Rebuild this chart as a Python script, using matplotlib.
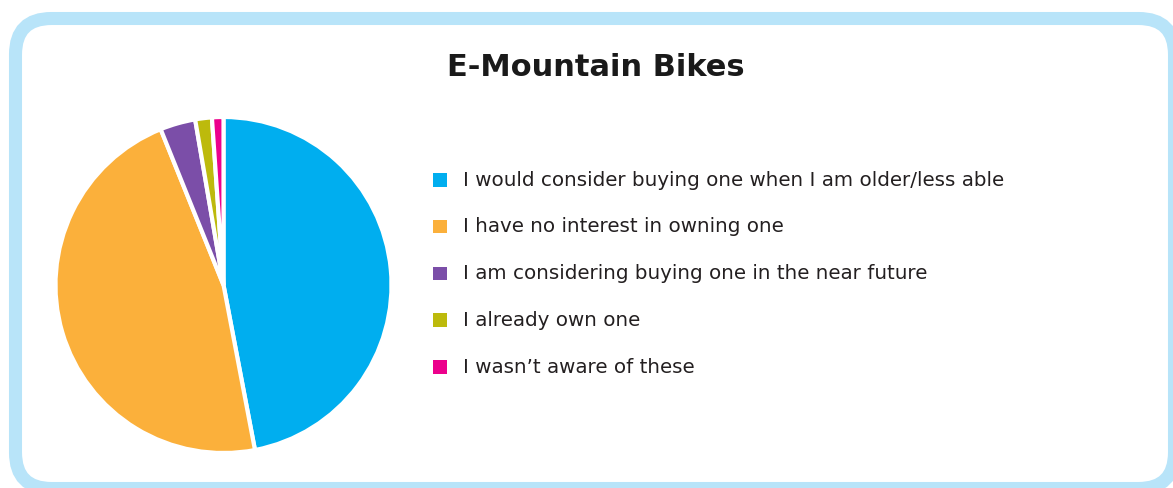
import matplotlib
matplotlib.use("Agg")
import matplotlib.pyplot as plt
from matplotlib.patches import FancyBboxPatch, Rectangle

title = "E-Mountain Bikes"
categories = [
    "I would consider buying one when I am older/less able",
    "I have no interest in owning one",
    "I am considering buying one in the near future",
    "I already own one",
    "I wasn\u2019t aware of these",
]
values = [47.0, 46.9, 3.4, 1.6, 1.1]
colors = ["#00aeef", "#fbb03b", "#7b4ea8", "#bdba0c", "#ec008c"]

W, H = 1173, 488
fig = plt.figure(figsize=(W / 100, H / 100), dpi=100)
fig.patch.set_facecolor("white")

# background axes in pixel coordinates
bg = fig.add_axes([0, 0, 1, 1])
bg.set_xlim(0, W)
bg.set_ylim(H, 0)
bg.axis("off")

frame = FancyBboxPatch((15.5, 18.5), 1174.5 - 15.5, 488.5 - 18.5,
                       boxstyle="round,pad=0,rounding_size=36",
                       facecolor="white", edgecolor="#b8e4f9", linewidth=9.4,
                       clip_on=False)
bg.add_patch(frame)

bg.text(596, 67, title, ha="center", va="center", fontsize=22,
        fontweight="bold", family="DejaVu Sans", color="#1a1a1a")

# legend
y0, dy = 180, 46.8
for i, (lab, col) in enumerate(zip(categories, colors)):
    y = y0 + i * dy
    bg.add_patch(Rectangle((433, y - 7), 13.5, 13.5, facecolor=col, edgecolor="none"))
    bg.text(463, y, lab, ha="left", va="center", fontsize=14.3,
            family="DejaVu Sans", color="#231f20")

# pie
cx, cy, r = 223.5, 285, 168
ax = fig.add_axes([(cx - r) / W, (H - cy - r) / H, 2 * r / W, 2 * r / H])
ax.pie(values, colors=colors, startangle=90, counterclock=False,
       wedgeprops=dict(edgecolor="white", linewidth=3.0))
ax.set_xlim(-1, 1)
ax.set_ylim(-1, 1)
ax.set_aspect("equal")
ax.axis("off")

fig.savefig("out.png", dpi=100)
